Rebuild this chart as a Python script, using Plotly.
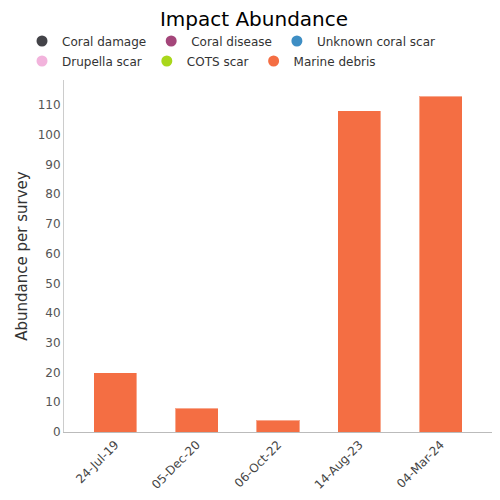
import plotly.graph_objects as go

dates = ["24-Jul-19", "05-Dec-20", "06-Oct-22", "14-Aug-23", "04-Mar-24"]
series_names = ["Coral damage", "Coral disease", "Unknown coral scar",
                "Drupella scar", "COTS scar", "Marine debris"]
series_colors = ["#434348", "#a4467a", "#3e8ec4", "#f2b3dc", "#a9d71b", "#f46e43"]
coral_damage = [0, 0, 0, 0, 0]
coral_disease = [0, 0, 0, 0, 0]
unknown_coral_scar = [0, 0, 0, 0, 0]
drupella_scar = [0, 0, 0, 0, 0]
cots_scar = [0, 0, 0, 0, 0]
marine_debris = [20, 8, 4, 108, 113]
y_ticks = [0, 10, 20, 30, 40, 50, 60, 70, 80, 90, 100, 110]

values = [coral_damage, coral_disease, unknown_coral_scar,
          drupella_scar, cots_scar, marine_debris]

W = H = 492  # page body has an 8px margin

fig = go.Figure()
for name, color, vals in zip(series_names, series_colors, values):
    fig.add_trace(go.Bar(x=dates, y=vals, name=name, marker_color=color,
                         marker_line_width=1, marker_line_color="rgba(255,255,255,0.4)",
                         showlegend=False, width=0.53))
for i, (name, color) in enumerate(zip(series_names, series_colors)):
    fig.add_trace(go.Scatter(x=[dates[0]], y=[None], mode="markers", name=name,
                             legend="legend" if i < 3 else "legend2",
                             marker=dict(color=color, size=11, symbol="circle")))

FONT = "DejaVu Sans"
legend_common = dict(orientation="h", xref="container", yref="container",
                     x=14 / W, xanchor="left", yanchor="middle",
                     font=dict(family=FONT, size=12, color="#333333"),
                     itemwidth=30, traceorder="normal",
                     bgcolor="rgba(0,0,0,0)")
fig.update_layout(
    width=W, height=H,
    barmode="stack",
    plot_bgcolor="white", paper_bgcolor="white",
    font=dict(family=FONT, color="#333333"),
    title=dict(text="Impact Abundance", x=0.5, xanchor="center",
               yref="container", y=1 - 4 / H, yanchor="top",
               font=dict(family=FONT, size=20, color="#000000")),
    margin=dict(l=56, r=8, t=72, b=68, autoexpand=False),
    legend=dict(legend_common, y=1 - 33 / H),
    legend2=dict(legend_common, y=1 - 53 / H),
    xaxis=dict(range=[-0.63, 4.63], showline=True, linecolor="#bbbbbb", linewidth=1,
               tickangle=-45, tickfont=dict(family=FONT, size=12, color="#444444"),
               ticks="", showgrid=False, automargin=False),
    yaxis=dict(range=[0, 118.4], tickvals=y_ticks, showline=True, linecolor="#cccccc",
               linewidth=1, showgrid=False, zeroline=False, ticks="", automargin=False,
               tickfont=dict(family=FONT, size=12, color="#555555"),
               title=dict(text="Abundance per survey", standoff=6,
                          font=dict(family=FONT, size=15, color="#333333"))),
)

fig.write_html("out.html")
